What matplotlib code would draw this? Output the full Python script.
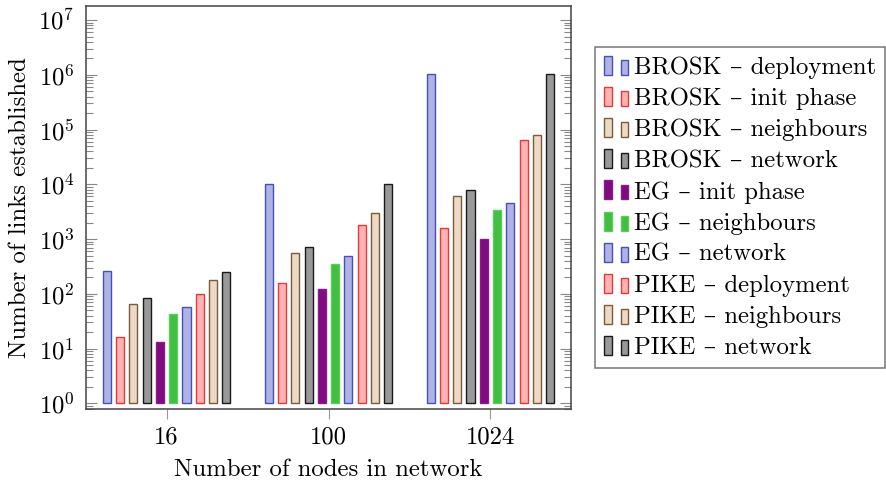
import matplotlib
matplotlib.use("Agg")
import matplotlib.pyplot as plt
import numpy as np
from matplotlib.patches import Rectangle
from matplotlib.legend_handler import HandlerBase
from matplotlib.ticker import LogLocator, NullFormatter

plt.rcParams['font.family'] = ['cmr10', 'DejaVu Serif']
plt.rcParams['mathtext.fontset'] = 'cm'
plt.rcParams['axes.formatter.use_mathtext'] = True

groups = ['16', '100', '1024']
series = ['BROSK – deployment', 'BROSK – init phase', 'BROSK – neighbours', 'BROSK – network',
          'EG – init phase', 'EG – neighbours', 'EG – network',
          'PIKE – deployment', 'PIKE – neighbours', 'PIKE – network']
brosk_deployment = [256, 10000, 1048576]
brosk_init = [16, 156, 1590]
brosk_neigh = [66, 560, 6000]
brosk_network = [84, 720, 7900]
eg_init = [13, 124, 1000]
eg_neigh = [43, 357, 3400]
eg_network = [58, 480, 4600]
pike_deployment = [98, 1830, 65000]
pike_neigh = [180, 2990, 80000]
pike_network = [245, 10000, 1048576]
values = [brosk_deployment, brosk_init, brosk_neigh, brosk_network, eg_init, eg_neigh,
          eg_network, pike_deployment, pike_neigh, pike_network]

blue = ('#b0b2e6', '#4352b4')
red = ('#ffb3b3', '#e8383a')
brown = ('#eddac6', '#7d5a3a')
gray = ('#999999', '#1a1a1a')
violet = ('#800a80', '#8a1a8a')
green = ('#40bf40', '#5ccc5c')
styles = [blue, red, brown, gray, violet, green, blue, red, brown, gray]

W, H = 887, 484
fig = plt.figure(figsize=(W/100, H/100), dpi=100)
ax = fig.add_axes([85.7/W, 1-408.7/H, (571.3-85.7)/W, (408.7-6)/H])

x = np.arange(len(groups))
step = 0.082
width = 0.050
for i, (vals, (fc, ec)) in enumerate(zip(values, styles)):
    ax.bar(x + (i-4.5)*step, np.array(vals, dtype=float) - 1, bottom=1, width=width,
           color=fc, edgecolor=ec, linewidth=1.0, label=series[i])

ax.set_yscale('log')
ax.set_ylim(10**-0.0986, 10**7.256)
ax.set_xlim(-0.5, 2.5)
ax.set_xticks(x)
ax.set_xticklabels(groups)
ax.set_yticks([10.0**k for k in range(8)])
ax.yaxis.set_minor_locator(LogLocator(base=10, subs=np.arange(2, 10), numticks=20))
ax.yaxis.set_minor_formatter(NullFormatter())

fs = 17.8
ax.tick_params(axis='y', which='major', direction='in', length=8, width=0.8, color='#888888',
               left=True, right=True, labelsize=fs, pad=8)
ax.tick_params(axis='y', which='minor', direction='in', length=5, width=0.8, color='#888888',
               left=True, right=True)
ax.tick_params(axis='x', which='major', direction='out', length=7, width=0.8, color='#999999',
               labelsize=fs, pad=6)
ax.tick_params(axis='x', which='minor', bottom=False)
for s in ax.spines.values():
    s.set_color('#444444')
    s.set_linewidth(1.1)

ax.set_ylabel('Number of links established', fontsize=fs, labelpad=5)
ax.set_xlabel('Number of nodes in network', fontsize=fs, labelpad=7)


class TwoBarHandler(HandlerBase):
    def create_artists(self, legend, orig_handle, xdescent, ydescent, width, height, fontsize, trans):
        fc = orig_handle.get_facecolor()
        ec = orig_handle.get_edgecolor()
        bw = width * 0.32
        h1 = height * 1.1
        h2 = height * 0.85
        y0 = -ydescent - height * 0.05
        r1 = Rectangle((-xdescent, y0), bw, h1, facecolor=fc, edgecolor=ec, lw=1.0, transform=trans)
        r2 = Rectangle((-xdescent + width * 0.66, y0), bw, h2, facecolor=fc, edgecolor=ec, lw=1.0,
                       transform=trans)
        return [r1, r2]


proxies = [Rectangle((0, 0), 1, 1, facecolor=fc, edgecolor=ec) for fc, ec in styles]
leg = fig.legend(proxies, series, loc='upper left', bbox_to_anchor=(595.3/W, 1-47.3/H),
                 fontsize=fs, frameon=True, fancybox=False, handler_map={Rectangle: TwoBarHandler()},
                 handlelength=1.0, handleheight=0.7, handletextpad=0.2, labelspacing=0.355,
                 borderpad=0.36, borderaxespad=0)
leg.get_frame().set_edgecolor('#555555')
leg.get_frame().set_linewidth(1.1)

fig.savefig('out.png', dpi=100)
